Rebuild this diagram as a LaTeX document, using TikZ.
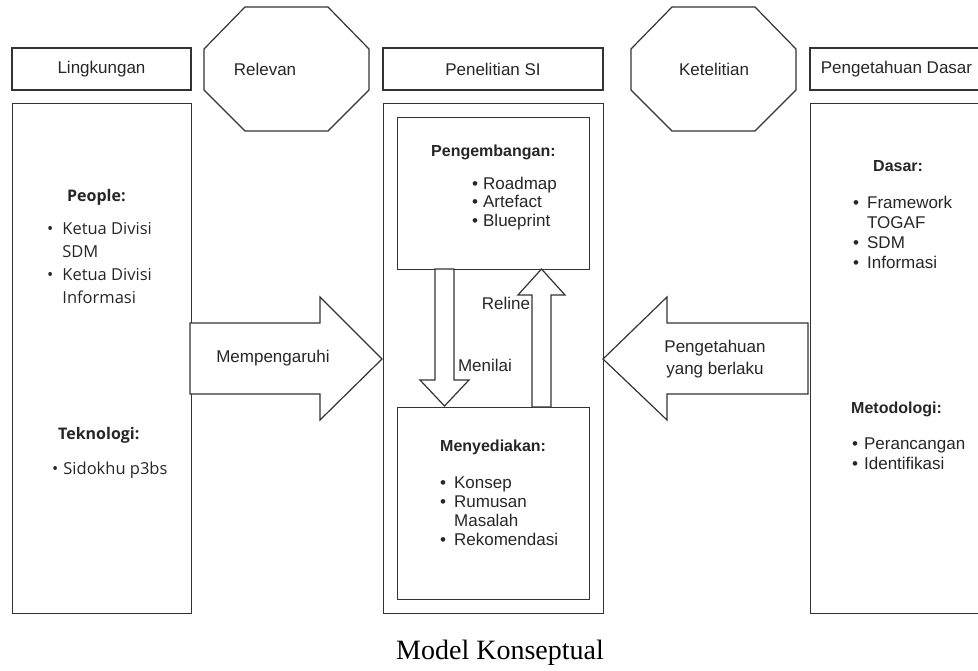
\documentclass[tikz,border=0pt]{standalone}
\usepackage{fontspec}
\setmainfont{Liberation Sans}
\newfontfamily\segoefont{Open Sans}
\newfontfamily\capfont{Liberation Serif}
\usetikzlibrary{calc}
\tikzset{
  boxline/.style={draw=black!80, line width=1.2pt},
  hdr/.style={boxline, minimum height=42pt, inner sep=0pt, text=black!85, font=\fontsize{17}{20}\selectfont},
  panel/.style={boxline, anchor=north west, inner sep=0pt},
  txt/.style={inner sep=0pt, text=black!85, font=\fontsize{17}{20}\selectfont},
  headtxt/.style={inner sep=0pt, anchor=base west, text=black!85, font=\fontsize{16}{19}\selectfont\bfseries},
  listtxt/.style={inner sep=0pt, anchor=base west, text=black!85},
  blockarrow/.style={boxline, fill=white, line join=miter}
}

\begin{document}
\begin{tikzpicture}[x=1pt,y=-1pt]
    \useasboundingbox (0,0) rectangle (978,670);
    \clip (0,0) rectangle (978,670); % Clips the picture...

    % header row
    \node[hdr, minimum width=179pt] (lingk) at (101.5,69) {Lingkungan};
    \node[hdr, minimum width=220pt] (penel) at (493,69) {Penelitian SI};
    \node[hdr, minimum width=173pt] (dasar) at (896.5,69) {Pengetahuan Dasar};
    \foreach \cx in {286.5,713.5}{
        \draw[boxline] (\cx-41.5,7) -- (\cx+41.5,7) -- (\cx+82.5,49) -- (\cx+82.5,90)
            -- (\cx+41.5,131) -- (\cx-41.5,131) -- (\cx-82.5,90) -- (\cx-82.5,49) -- cycle;
    }
    \node[txt] (relevan) at (265,69) {Relevan};
    \node[txt] (teliti) at (714,69) {Ketelitian};

    % body panels
    \node[panel, minimum width=179pt, minimum height=510pt] (lbody) at (12,103) {};
    \node[panel, minimum width=220pt, minimum height=510pt] (cbody) at (383,103) {};
    \node[panel, minimum width=173pt, minimum height=510pt] (rbody) at (810,103) {};
    \node[panel, minimum width=192pt, minimum height=152pt] (kembang) at (397,117) {};
    \node[panel, minimum width=192pt, minimum height=192pt] (sedia) at (397,407) {};

    % left panel
    \node[headtxt, font=\segoefont\fontsize{16}{19}\selectfont\bfseries] (people) at (67,201) {People:};
    \node[listtxt, font=\segoefont\fontsize{16.5}{23}\selectfont] (peoplelist) at (47,234)
        {\begin{tabular}[t]{@{}l@{\hspace{9pt}}l@{}}
         \textbullet & Ketua Divisi\\ & SDM\\ \textbullet & Ketua Divisi\\ & Informasi
         \end{tabular}};
    \node[headtxt, font=\segoefont\fontsize{16}{19}\selectfont\bfseries] (tekno) at (58,439) {Teknologi:};
    \node[listtxt, font=\segoefont\fontsize{16.5}{23}\selectfont] (teknolist) at (52,474)
        {\textbullet\hspace{5pt}Sidokhu p3bs};

    % centre panel
    \node[headtxt] (pgm) at (431,156) {Pengembangan:};
    \node[listtxt, font=\fontsize{17}{18.5}\selectfont] (pgmlist) at (472,189)
        {\begin{tabular}[t]{@{}l@{\hspace{5pt}}l@{}}
         \textbullet & Roadmap\\ \textbullet & Artefact\\ \textbullet & Blueprint
         \end{tabular}};
    \node[headtxt] (sdk) at (440,451) {Menyediakan:};
    \node[listtxt, font=\fontsize{17}{19.3}\selectfont] (sdklist) at (440,488)
        {\begin{tabular}[t]{@{}l@{\hspace{8pt}}l@{}}
         \textbullet & Konsep\\ \textbullet & Rumusan\\ & Masalah\\ \textbullet & Rekomendasi
         \end{tabular}};

    % right panel
    \node[headtxt] (dsr) at (873,171) {Dasar:};
    \node[listtxt, font=\fontsize{17}{20}\selectfont] (dsrlist) at (853,208)
        {\begin{tabular}[t]{@{}l@{\hspace{8pt}}l@{}}
         \textbullet & Framework\\ & TOGAF\\ \textbullet & SDM\\ \textbullet & Informasi
         \end{tabular}};
    \node[headtxt] (meto) at (851,413) {Metodologi:};
    \node[listtxt, font=\fontsize{17}{20}\selectfont] (metolist) at (852,449)
        {\begin{tabular}[t]{@{}l@{\hspace{6pt}}l@{}}
         \textbullet & Perancangan\\ \textbullet & Identifikasi
         \end{tabular}};

    % block arrows
    \draw[blockarrow] (190,323) -- (320,323) -- (320,297) -- (382,359) -- (320,420) -- (320,394) -- (190,394) -- cycle;
    \node[txt] (pengaruh) at (273,358) {Mempengaruhi};
    \draw[blockarrow] (808,323) -- (667,323) -- (667,297) -- (603,359) -- (667,420) -- (667,394) -- (808,394) -- cycle;
    \node[txt, align=center, font=\fontsize{17}{22}\selectfont] (berlaku) at (715,359) {Pengetahuan\\yang berlaku};
    \draw[blockarrow] (435,269) -- (454,269) -- (454,380) -- (469,380) -- (444.5,406) -- (420,380) -- (435,380) -- cycle;
    \node[txt] (nilai) at (485,365) {Menilai};
    \draw[blockarrow] (532,407) -- (551,407) -- (551,295) -- (565,295) -- (541.5,269) -- (518,295) -- (532,295) -- cycle;
    \node[txt] (reline) at (506,303) {Reline};

    % caption
    \node[inner sep=0pt, font=\capfont\fontsize{28}{30}\selectfont] (caption) at (500,653) {Model Konseptual};
\end{tikzpicture}
\end{document}
